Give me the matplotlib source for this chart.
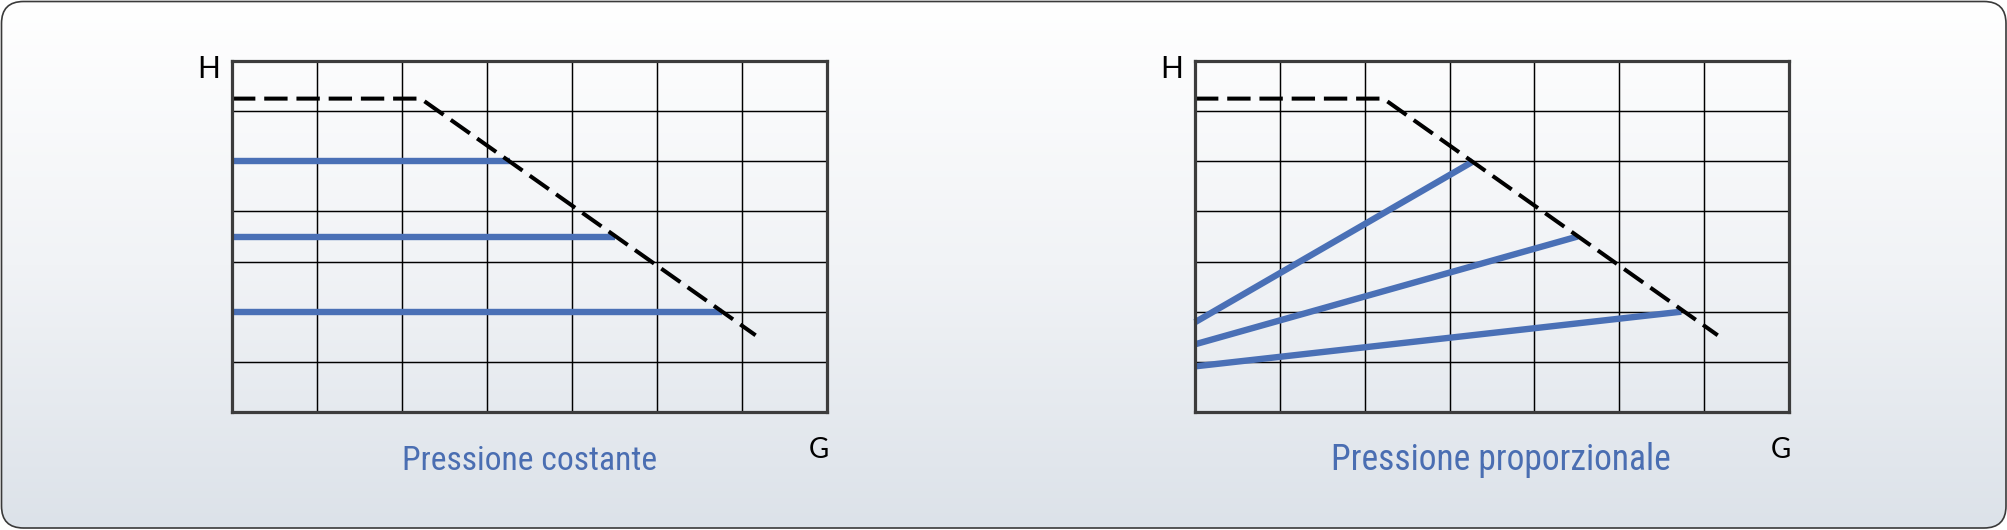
import numpy as np
import matplotlib
matplotlib.use("Agg")
import matplotlib.pyplot as plt
from matplotlib.patches import FancyBboxPatch
from matplotlib.colors import LinearSegmentedColormap
from matplotlib import font_manager as fm

# ---------------- data ----------------
grid_n_cols = 7
grid_n_rows = 7

# maximum pump curve (dashed)
max_curve_G = [0.0, 2.22, 6.16]
max_curve_H = [6.25, 6.25, 1.53]

# constant pressure curves
const_H = [5.0, 3.5, 2.0]
const_G_end = [3.27, 4.50, 5.77]

# proportional pressure curves
prop_H_start = [1.79, 1.35, 0.91]
prop_G_end = [3.28, 4.51, 5.73]
prop_H_end = [5.0, 3.5, 2.0]

titles = ["Pressione costante", "Pressione proporzionale"]
y_label = "H"
x_label = "G"

# ---------------- font choice ----------------
entries = [(f.name, str(f.stretch), f.weight) for f in fm.fontManager.ttflist]
names = {e[0] for e in entries}


def pick_narrow():
    for nm in ["Liberation Sans Narrow", "Roboto Condensed", "Open Sans Condensed",
               "Noto Sans Condensed", "DejaVu Sans Condensed"]:
        if nm in names:
            return dict(family=nm)
    for fam in ["DejaVu Sans", "Noto Sans", "Open Sans", "Roboto"]:
        for e in entries:
            if e[0] == fam and e[1] in ("condensed", "semi-condensed", "extra-condensed",
                                        "75", "87.5", "62.5"):
                return dict(family=fam, stretch=e[1])
    return dict(family="DejaVu Sans")


def pick_plain():
    for nm in ["Lato", "Open Sans", "Roboto", "Noto Sans", "DejaVu Sans"]:
        if nm in names:
            return dict(family=nm, weight="normal")
    return dict(family="DejaVu Sans")


TITLE_FONT = pick_narrow()
LABEL_FONT = pick_plain()

# ---------------- style ----------------
BLUE = "#4a70b6"
TEXT_BLUE = "#4a6eb2"

W, H = 2008, 530
fig = plt.figure(figsize=(W / 100, H / 100), dpi=100)
fig.patch.set_facecolor("white")

# background with rounded frame + vertical gradient
bg = fig.add_axes([0, 0, 1, 1])
bg.set_xlim(0, W)
bg.set_ylim(H, 0)
bg.axis("off")
cmap = LinearSegmentedColormap.from_list("bg", ["#ffffff", "#f1f3f6", "#dce2e9"])
grad = np.linspace(0, 1, 256).reshape(-1, 1)
im = bg.imshow(grad, cmap=cmap, extent=[0, W, H, 0], aspect="auto", zorder=0)
frame = FancyBboxPatch((1.5, 1.5), W - 3.5, H - 3.5,
                       boxstyle="round,pad=0,rounding_size=22",
                       facecolor="none", edgecolor="#3a3a3a", linewidth=1.2, zorder=2)
bg.add_patch(frame)
im.set_clip_path(frame)

ax_pos = [
    [232 / W, 1 - 412 / H, 595 / W, 351 / H],
    [1195 / W, 1 - 412 / H, 594 / W, 351 / H],
]
title_x = [0.5, 0.515]
title_w_px = [255, 340]

axes = []
title_texts = []
for i, pos in enumerate(ax_pos):
    ax = fig.add_axes(pos)
    ax.set_facecolor("none")
    ax.set_xlim(0, grid_n_cols)
    ax.set_ylim(0, grid_n_rows)
    ax.set_xticks(np.arange(0, grid_n_cols + 1))
    ax.set_yticks(np.arange(0, grid_n_rows + 1))
    ax.tick_params(length=0, labelbottom=False, labelleft=False)
    ax.grid(True, color="black", linewidth=1.05, zorder=1)
    ax.set_axisbelow(True)
    for s in ax.spines.values():
        s.set_linewidth(2.3)
        s.set_color("#3c3c3c")
        s.set_zorder(5)
    ax.text(-0.039, 0.977, y_label, transform=ax.transAxes, ha="center", va="center",
            fontsize=21.5, color="black", **LABEL_FONT)
    ax.text(0.986, -0.107, x_label, transform=ax.transAxes, ha="center", va="center",
            fontsize=20, color="black", **LABEL_FONT)
    tt = ax.text(title_x[i], -0.165, titles[i], transform=ax.transAxes, ha="center",
                 va="baseline", fontsize=26, color=TEXT_BLUE, **TITLE_FONT)
    title_texts.append(tt)
    axes.append(ax)

# left: constant pressure
axL = axes[0]
for h, g_end in zip(const_H, const_G_end):
    axL.plot([0, g_end], [h, h], color=BLUE, linewidth=4.6, solid_capstyle="butt",
             zorder=3, clip_on=False)

# right: proportional pressure
axR = axes[1]
for h0, g_end, h1 in zip(prop_H_start, prop_G_end, prop_H_end):
    axR.plot([0, g_end], [h0, h1], color=BLUE, linewidth=4.6, solid_capstyle="butt",
             zorder=3, clip_on=False)

for ax in axes:
    ax.plot(max_curve_G, max_curve_H, color="black", linewidth=2.9,
            linestyle=(0, (5.8, 2.2)), dash_capstyle="butt", zorder=4, clip_on=False)

# fit the title widths to the reference layout
fig.canvas.draw()
r = fig.canvas.get_renderer()
for t, wpx in zip(title_texts, title_w_px):
    w = t.get_window_extent(renderer=r).width
    t.set_fontsize(t.get_fontsize() * wpx / w)

fig.savefig("out.png", dpi=100)
